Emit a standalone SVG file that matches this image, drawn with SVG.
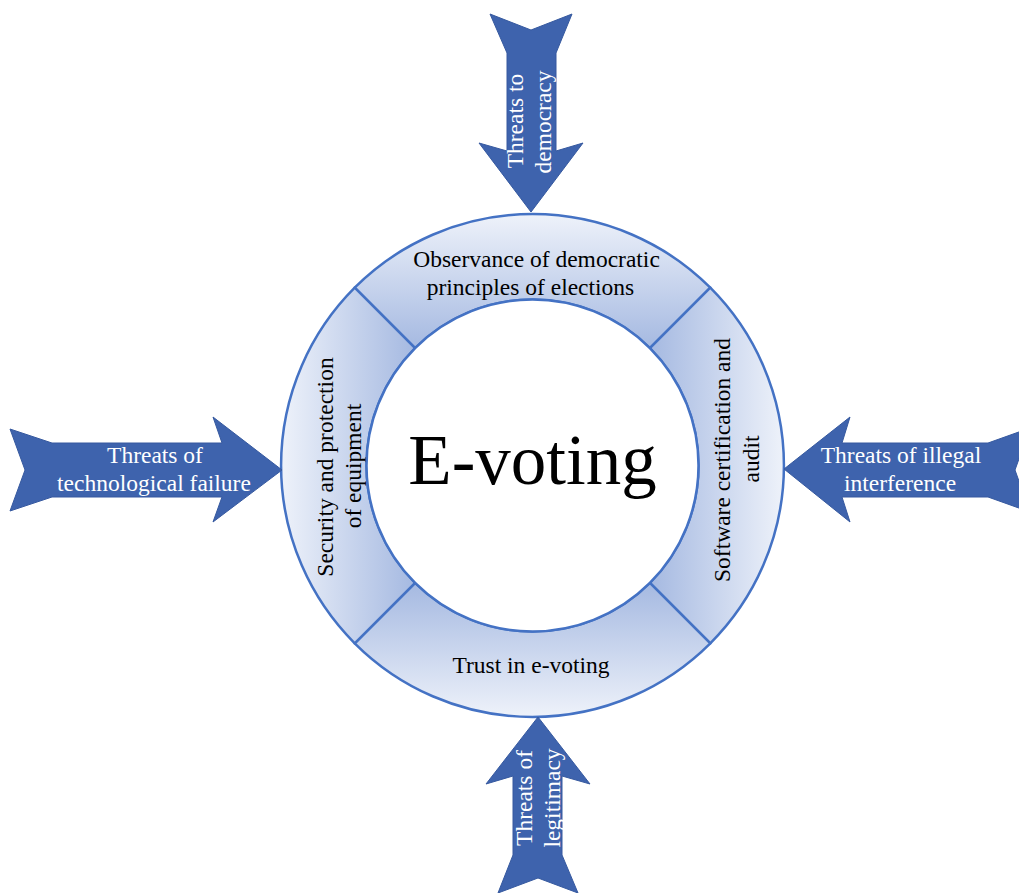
<svg xmlns="http://www.w3.org/2000/svg" width="1019" height="893" viewBox="0 0 1019 893" font-family="'Liberation Serif', 'Times New Roman', serif">
<defs>
<linearGradient id="gTop" gradientUnits="userSpaceOnUse" x1="0" y1="214" x2="0" y2="348"><stop offset="0" stop-color="#eef2fa"/><stop offset="1" stop-color="#a5b9e1"/></linearGradient>
<linearGradient id="gBot" gradientUnits="userSpaceOnUse" x1="0" y1="717" x2="0" y2="583"><stop offset="0" stop-color="#eef2fa"/><stop offset="1" stop-color="#a5b9e1"/></linearGradient>
<linearGradient id="gLeft" gradientUnits="userSpaceOnUse" x1="281" y1="0" x2="415" y2="0"><stop offset="0" stop-color="#eef2fa"/><stop offset="1" stop-color="#a5b9e1"/></linearGradient>
<linearGradient id="gRight" gradientUnits="userSpaceOnUse" x1="784" y1="0" x2="650" y2="0"><stop offset="0" stop-color="#eef2fa"/><stop offset="1" stop-color="#a5b9e1"/></linearGradient>
</defs>
<style>
.seg{stroke:#4472c4;stroke-width:2.5;stroke-linejoin:round}
.arrow{fill:#3e63ad;stroke:#36599f;stroke-width:1}
text{font-family:'Liberation Serif','Times New Roman',serif}
.t{font-size:23.5px;text-anchor:middle}
.dark{fill:#000}
.light{fill:#fff}
.big{font-size:71px;text-anchor:middle;fill:#000}
</style>
<rect width="1019" height="893" fill="#fff"/>

<g id="ring">
<g id="seg-top">
<path class="seg" fill="url(#gTop)" d="M354.7,287.7 A251.5,251.5 0 0 1 710.3,287.7 L649.9,348.1 A166,166 0 0 0 415.1,348.1 Z"/>
<text class="t dark" font-family="Liberation Serif, serif" x="536.5" y="267">Observance of democratic</text>
<text class="t dark" font-family="Liberation Serif, serif" x="530.5" y="295">principles of elections</text>
</g>
<g id="seg-right">
<path class="seg" fill="url(#gRight)" d="M710.3,287.7 A251.5,251.5 0 0 1 710.3,643.3 L649.9,582.9 A166,166 0 0 0 649.9,348.1 Z"/>
<text class="t dark" font-family="Liberation Serif, serif" transform="translate(730,460) rotate(-90)">Software certification and</text>
<text class="t dark" font-family="Liberation Serif, serif" transform="translate(759,459) rotate(-90)">audit</text>
</g>
<g id="seg-bottom">
<path class="seg" fill="url(#gBot)" d="M710.3,643.3 A251.5,251.5 0 0 1 354.7,643.3 L415.1,582.9 A166,166 0 0 0 649.9,582.9 Z"/>
<text class="t dark" font-family="Liberation Serif, serif" x="531" y="673">Trust in e-voting</text>
</g>
<g id="seg-left">
<path class="seg" fill="url(#gLeft)" d="M354.7,643.3 A251.5,251.5 0 0 1 354.7,287.7 L415.1,348.1 A166,166 0 0 0 415.1,582.9 Z"/>
<text class="t dark" font-family="Liberation Serif, serif" transform="translate(332.5,467) rotate(-90)">Security and protection</text>
<text class="t dark" font-family="Liberation Serif, serif" transform="translate(360.5,466) rotate(-90)">of equipment</text>
</g>
<g id="center">
<circle cx="532.5" cy="465.5" r="166" fill="#fff" stroke="#4472c4" stroke-width="2.5"/>
<text class="big" font-family="Liberation Serif, serif" x="532.5" y="484">E-voting</text>
</g>
</g>

<g id="connectors">
<g id="arrow-top">
<polygon class="arrow" points="490,14 531,30 572,14 556,53 556,151 583,143 531,212 479,143 507,151 507,53"/>
<text class="t light" font-family="Liberation Serif, serif" transform="translate(523,121) rotate(-90)">Threats to</text>
<text class="t light" font-family="Liberation Serif, serif" transform="translate(551,122) rotate(-90)">democracy</text>
</g>
<g id="arrow-left">
<polygon class="arrow" points="10,429 52,443 222,443 213,417 282,470 213,522 222,497 52,497 10,511 25,470"/>
<text class="t light" font-family="Liberation Serif, serif" x="155" y="463">Threats of</text>
<text class="t light" font-family="Liberation Serif, serif" x="154" y="491">technological failure</text>
</g>
<g id="arrow-right">
<polygon class="arrow" points="784,469 850,417 842,443 988,443 1030,428 1015,470 1030,512 988,497 842,497 850,522"/>
<text class="t light" font-family="Liberation Serif, serif" x="901" y="463">Threats of illegal</text>
<text class="t light" font-family="Liberation Serif, serif" x="900" y="491">interference</text>
</g>
<g id="arrow-bottom">
<polygon class="arrow" points="538,717 590,784 562,776 562,855 578,893 538,878 498,893 513,855 513,776 486,784"/>
<text class="t light" font-family="Liberation Serif, serif" transform="translate(532,798) rotate(-90)">Threats of</text>
<text class="t light" font-family="Liberation Serif, serif" transform="translate(560,798) rotate(-90)">legitimacy</text>
</g>
</g>
</svg>
